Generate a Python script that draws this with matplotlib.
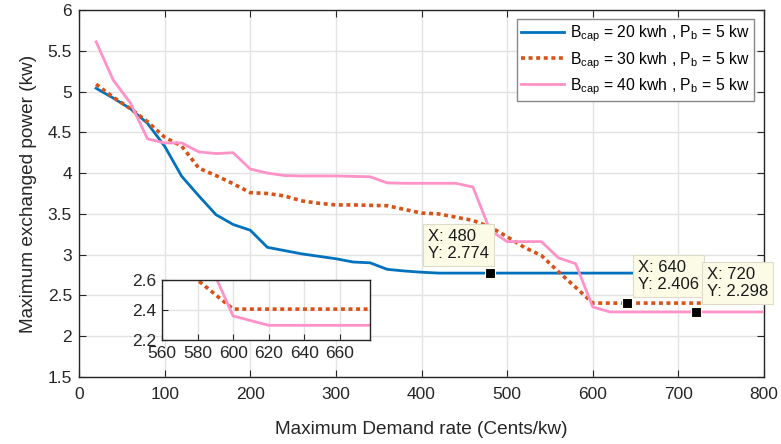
import matplotlib
matplotlib.use("Agg")
import matplotlib.pyplot as plt
import numpy as np

plt.rcParams['font.family'] = ['Liberation Sans', 'DejaVu Sans']
plt.rcParams['mathtext.fontset'] = 'custom'
plt.rcParams['mathtext.rm'] = 'Liberation Sans'
plt.rcParams['mathtext.it'] = 'Liberation Sans'

demand_rate = list(range(20, 801, 20))

power_b20 = [5.04, 4.92, 4.79, 4.61, 4.33, 3.96, 3.72, 3.49, 3.37, 3.30,
             3.09, 3.05, 3.01, 2.98, 2.95, 2.91, 2.90, 2.82, 2.80, 2.785] + [2.774] * 20

power_b30 = [5.09, 4.93, 4.79, 4.63, 4.44, 4.33, 4.06, 3.97, 3.87, 3.76,
             3.75, 3.72, 3.66, 3.63, 3.61, 3.61, 3.605, 3.60, 3.555, 3.51,
             3.50, 3.46, 3.42, 3.34, 3.22, 3.09, 2.99, 2.79, 2.60] + [2.406] * 11

power_b40 = [5.61, 5.14, 4.86, 4.42, 4.37, 4.37, 4.26, 4.24, 4.25, 4.05,
             4.00, 3.97, 3.965, 3.965, 3.965, 3.96, 3.955, 3.88, 3.875, 3.875,
             3.875, 3.875, 3.83, 3.30, 3.16, 3.16, 3.16, 2.96, 2.89, 2.36] + [2.298] * 10

labels = [r'B$_{\mathrm{cap}}$ = 20 kwh , P$_{\mathrm{b}}$ = 5 kw',
          r'B$_{\mathrm{cap}}$ = 30 kwh , P$_{\mathrm{b}}$ = 5 kw',
          r'B$_{\mathrm{cap}}$ = 40 kwh , P$_{\mathrm{b}}$ = 5 kw']

tip_x = [480, 640, 720]
tip_y = [2.774, 2.406, 2.298]

c_blue = '#0072BD'
c_orange = '#D95319'
c_pink = '#FF92C8'
spine_c = '#262626'

fig = plt.figure(figsize=(7.81, 4.44), dpi=100)
ax = fig.add_axes([79/781, 1-377/444, 685/781, 367/444])

ax.plot(demand_rate, power_b20, color=c_blue, lw=2.0, label=labels[0], zorder=3)
ax.plot(demand_rate, power_b30, color=c_orange, lw=2.6, linestyle=(0, (1.1, 1.0)), label=labels[1], zorder=3)
ax.plot(demand_rate, power_b40, color=c_pink, lw=2.0, label=labels[2], zorder=3)

ax.set_xlim(0, 800)
ax.set_ylim(1.5, 6)
ax.set_xticks(np.arange(0, 801, 100))
ax.set_yticks(np.arange(1.5, 6.01, 0.5))
ax.set_yticklabels(['1.5', '2', '2.5', '3', '3.5', '4', '4.5', '5', '5.5', '6'])
ax.grid(True, color='#e3e3e3', lw=1.0)
ax.set_axisbelow(True)
ax.tick_params(direction='in', length=5, top=True, right=True, labelsize=12.5,
               color=spine_c, labelcolor=spine_c, pad=5)
ax.tick_params(axis='x', pad=7)
for s in ax.spines.values():
    s.set_color(spine_c)
    s.set_linewidth(1.0)
ax.set_xlabel('Maximum Demand rate (Cents/kw)', fontsize=13.7, color=spine_c, labelpad=14)
ax.set_ylabel('Maximum exchanged power (kw)', fontsize=13.7, color=spine_c, labelpad=8)

leg = ax.legend(loc='upper right', bbox_to_anchor=(0.9855, 0.975), borderaxespad=0,
                fontsize=11.3, handlelength=2.7, frameon=True, fancybox=False,
                edgecolor='#888888', framealpha=1, borderpad=0.3, labelspacing=0.35,
                handletextpad=0.4)
leg.get_frame().set_linewidth(1.0)

# data tips
ax.plot(tip_x, tip_y, 's', color='black', markersize=7.5, markeredgecolor='#ffffee',
        markeredgewidth=0.8, zorder=6)
tip_text_pos = [(408, 3.12), (653, 2.735), (733, 2.655)]
for (tx, ty), xv, yv in zip(tip_text_pos, tip_x, tip_y):
    ax.text(tx, ty, f'X: {xv}\nY: {yv}', fontsize=12, va='center', ha='left',
            color='#1a1a1a', zorder=7, linespacing=1.15,
            bbox=dict(boxstyle='square,pad=0.3', facecolor='#fbfbe6',
                      edgecolor='#dcdcc8', linewidth=0.8))

# inset
axin = fig.add_axes([162/781, 1-340/444, 208/781, 60/444])
axin.plot(demand_rate, power_b20, color=c_blue, lw=2.0)
axin.plot(demand_rate, power_b30, color=c_orange, lw=2.6, linestyle=(0, (1.1, 1.0)))
axin.plot(demand_rate, power_b40, color=c_pink, lw=2.0)
axin.set_xlim(560, 677)
axin.set_ylim(2.2, 2.6)
axin.set_xticks(np.arange(560, 661, 20))
axin.set_yticks([2.2, 2.4, 2.6])
axin.grid(True, color='#e3e3e3', lw=1.0)
axin.set_axisbelow(True)
axin.tick_params(direction='in', length=4, labelsize=12.5, color=spine_c,
                 labelcolor=spine_c, pad=4)
for s in axin.spines.values():
    s.set_color(spine_c)
    s.set_linewidth(1.0)
axin.set_facecolor('white')

fig.savefig('out.png', dpi=100)
